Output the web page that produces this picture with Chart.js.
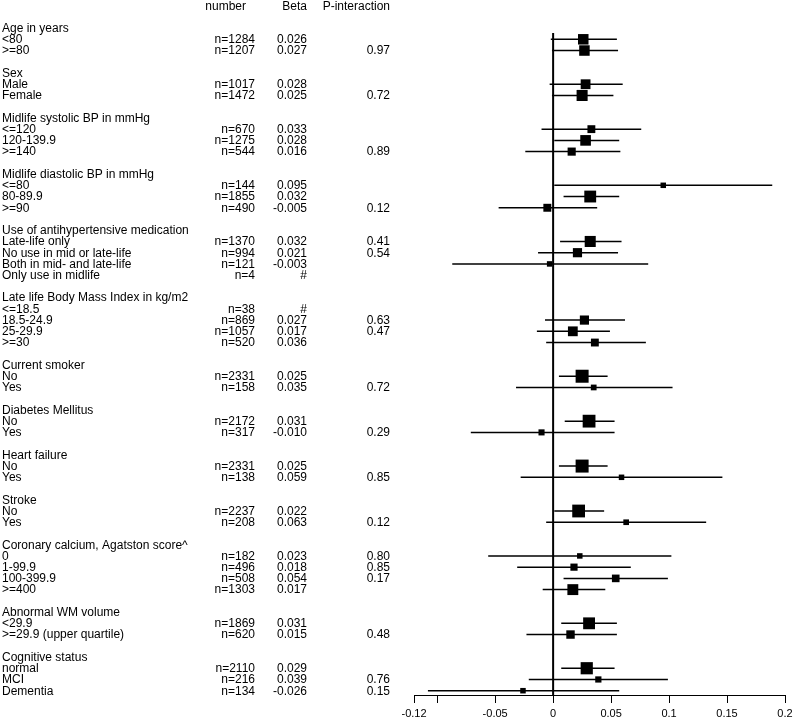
<!DOCTYPE html>
<html>
<head>
<meta charset="utf-8">
<script src="https://cdn.jsdelivr.net/npm/chart.js@4.4.1/dist/chart.umd.min.js"></script>
<style>
  html, body { margin: 0; padding: 0; background: #fff; }
  canvas { display: block; }
</style>
</head>
<body>
<canvas id="c" width="795" height="721"></canvas>
<script>
// ---------- data (row index = position in the table, 0 = header row) ----------
const rowLabels = [
  "", "",
  "Age in years", "<80", ">=80", "",
  "Sex", "Male", "Female", "",
  "Midlife systolic BP in mmHg", "<=120", "120-139.9", ">=140", "",
  "Midlife diastolic BP in mmHg", "<=80", "80-89.9", ">=90", "",
  "Use of antihypertensive medication", "Late-life only", "No use in mid or late-life", "Both in mid- and late-life", "Only use in midlife", "",
  "Late life Body Mass Index in kg/m2", "<=18.5", "18.5-24.9", "25-29.9", ">=30", "",
  "Current smoker", "No", "Yes", "",
  "Diabetes Mellitus", "No", "Yes", "",
  "Heart failure", "No", "Yes", "",
  "Stroke", "No", "Yes", "",
  "Coronary calcium, Agatston score^", "0", "1-99.9", "100-399.9", ">=400", "",
  "Abnormal WM volume", "<29.9", ">=29.9 (upper quartile)", "",
  "Cognitive status", "normal", "MCI", "Dementia"
];
const numberText = [
  "", "",
  "", "n=1284", "n=1207", "",
  "", "n=1017", "n=1472", "",
  "", "n=670", "n=1275", "n=544", "",
  "", "n=144", "n=1855", "n=490", "",
  "", "n=1370", "n=994", "n=121", "n=4", "",
  "", "n=38", "n=869", "n=1057", "n=520", "",
  "", "n=2331", "n=158", "",
  "", "n=2172", "n=317", "",
  "", "n=2331", "n=138", "",
  "", "n=2237", "n=208", "",
  "", "n=182", "n=496", "n=508", "n=1303", "",
  "", "n=1869", "n=620", "",
  "", "n=2110", "n=216", "n=134"
];
const betaText = [
  "", "",
  "", "0.026", "0.027", "",
  "", "0.028", "0.025", "",
  "", "0.033", "0.028", "0.016", "",
  "", "0.095", "0.032", "-0.005", "",
  "", "0.032", "0.021", "-0.003", "#", "",
  "", "#", "0.027", "0.017", "0.036", "",
  "", "0.025", "0.035", "",
  "", "0.031", "-0.010", "",
  "", "0.025", "0.059", "",
  "", "0.022", "0.063", "",
  "", "0.023", "0.018", "0.054", "0.017", "",
  "", "0.031", "0.015", "",
  "", "0.029", "0.039", "-0.026"
];
const pText = [
  "", "",
  "", "", "0.97", "",
  "", "", "0.72", "",
  "", "", "", "0.89", "",
  "", "", "", "0.12", "",
  "", "0.41", "0.54", "", "", "",
  "", "", "0.63", "0.47", "", "",
  "", "", "0.72", "",
  "", "", "0.29", "",
  "", "", "0.85", "",
  "", "", "0.12", "",
  "", "0.80", "0.85", "0.17", "", "",
  "", "", "0.48", "",
  "", "", "0.76", "0.15"
];
const headerText = { number: "number", beta: "Beta", p: "P-interaction" };

// point estimates and 95% CI (null = not estimated)
const estimate = [
  null, null,
  null, 0.026, 0.027, null,
  null, 0.028, 0.025, null,
  null, 0.033, 0.028, 0.016, null,
  null, 0.095, 0.032, -0.005, null,
  null, 0.032, 0.021, -0.003, null, null,
  null, null, 0.027, 0.017, 0.036, null,
  null, 0.025, 0.035, null,
  null, 0.031, -0.010, null,
  null, 0.025, 0.059, null,
  null, 0.022, 0.063, null,
  null, 0.023, 0.018, 0.054, 0.017, null,
  null, 0.031, 0.015, null,
  null, 0.029, 0.039, -0.026
];
const lower = [
  null, null,
  null, -0.002, -0.001, null,
  null, -0.003, -0.001, null,
  null, -0.010, 0.001, -0.024, null,
  null, 0.001, 0.009, -0.047, null,
  null, 0.006, -0.013, -0.087, null, null,
  null, null, -0.007, -0.014, -0.006, null,
  null, 0.005, -0.032, null,
  null, 0.010, -0.071, null,
  null, 0.005, -0.028, null,
  null, 0.001, -0.006, null,
  null, -0.056, -0.031, 0.009, -0.009, null,
  null, 0.007, -0.023, null,
  null, 0.007, -0.021, -0.108
];
const upper = [
  null, null,
  null, 0.055, 0.056, null,
  null, 0.060, 0.052, null,
  null, 0.076, 0.057, 0.058, null,
  null, 0.189, 0.057, 0.038, null,
  null, 0.059, 0.056, 0.082, null, null,
  null, null, 0.062, 0.049, 0.080, null,
  null, 0.047, 0.103, null,
  null, 0.053, 0.053, null,
  null, 0.047, 0.146, null,
  null, 0.044, 0.132, null,
  null, 0.102, 0.067, 0.099, 0.045, null,
  null, 0.055, 0.055, null,
  null, 0.053, 0.099, 0.057
];
const tickValues = [-0.12, -0.1, -0.05, 0, 0.05, 0.1, 0.15, 0.2];
const tickLabels = ["-0.12", "", "-0.05", "0", "0.05", "0.1", "0.15", "0.2"];

// ---------- build chart ----------
const FONT = "'Liberation Sans', Arial, Helvetica, sans-serif";
const canvas = document.getElementById('c');
canvas.getContext('2d', { willReadFrequently: true });

const boxPoints = [], boxRadius = [], ciSets = [];
let firstRow = null, lastRow = null;
for (let i = 0; i < estimate.length; i++) {
  if (estimate[i] === null) continue;
  if (firstRow === null) firstRow = i;
  lastRow = i;
  boxPoints.push({ x: estimate[i], y: i });
  // box area reflects precision (inverse of CI width)
  const side = Math.max(5.5, 13 * Math.pow(0.042 / (upper[i] - lower[i]), 0.7));
  boxRadius.push(side / Math.SQRT2);
  ciSets.push({
    type: 'scatter', showLine: true, order: 1, clip: false,
    data: [{ x: lower[i], y: i }, { x: upper[i], y: i }],
    borderColor: '#000', borderWidth: 1.5, pointRadius: 0, pointHoverRadius: 0, fill: false
  });
}

const textPlugin = {
  id: 'tableText',
  afterDraw(chart) {
    const ctx = chart.ctx, y = chart.scales.y;
    // paint the x axis line and tick marks again on top
    const xs = chart.scales.x;
    ctx.save();
    xs._gridLineItems = null;
    xs.drawGrid(chart.chartArea);
    xs.drawBorder();
    ctx.restore();

    ctx.save();
    ctx.fillStyle = '#000';
    ctx.font = '12px ' + FONT;
    ctx.textBaseline = 'middle';
    const hy = y.getPixelForValue(0) + 1;
    ctx.textAlign = 'right';
    ctx.fillText(headerText.number, 246, hy);
    ctx.fillText(headerText.beta, 307, hy);
    ctx.fillText(headerText.p, 390, hy);
    for (let i = 0; i < rowLabels.length; i++) {
      const py = y.getPixelForValue(i) + 0.5;
      ctx.textAlign = 'left';
      if (rowLabels[i]) ctx.fillText(rowLabels[i], 2, py);
      ctx.textAlign = 'right';
      if (numberText[i]) ctx.fillText(numberText[i], 255, py);
      if (betaText[i]) ctx.fillText(betaText[i], 307, py);
      if (pText[i]) ctx.fillText(pText[i], 390, py);
    }
    ctx.restore();
  }
};

const chart = new Chart(canvas, {
  type: 'scatter',
  data: {
    datasets: [
      {
        order: 0, clip: false, data: boxPoints, pointStyle: 'rect', pointRadius: boxRadius, pointHoverRadius: 0,
        backgroundColor: '#000', borderColor: '#000', borderWidth: 0, showLine: false
      },
      ...ciSets,
      {
        order: 2, clip: false, showLine: true, pointRadius: 0, pointHoverRadius: 0, borderColor: '#000', borderWidth: 2,
        data: [{ x: 0, y: firstRow - 0.55 }, { x: 0, y: lastRow + 0.383 }]
      }
    ]
  },
  options: {
    responsive: false, animation: false, devicePixelRatio: 1, events: [],
    layout: { padding: { left: 414, right: 10, top: 10, bottom: 0 } },
    plugins: { legend: { display: false }, tooltip: { enabled: false } },
    scales: {
      x: {
        type: 'linear', min: -0.12, max: 0.2,
        afterBuildTicks: s => { s.ticks = tickValues.map(v => ({ value: v })); },
        afterFit: s => { s.height = 26; s.paddingRight = 0; s.paddingLeft = 0; },
        ticks: {
          autoSkip: false, maxRotation: 0, color: '#000', padding: 4,
          font: { family: FONT, size: 11 },
          callback: (v, idx) => tickLabels[idx]
        },
        grid: { display: true, drawOnChartArea: false, drawTicks: true, tickLength: 8, color: '#000', lineWidth: 1 },
        border: { display: true, color: '#000', width: 1 }
      },
      y: {
        type: 'linear', reverse: true, min: 0.391, max: 61.383, display: false
      }
    }
  },
  plugins: [textPlugin]
});
// flush the canvas once (as in the working test page)
chart.ctx.getImageData(0, 0, 1, 1);
</script>
</body>
</html>
